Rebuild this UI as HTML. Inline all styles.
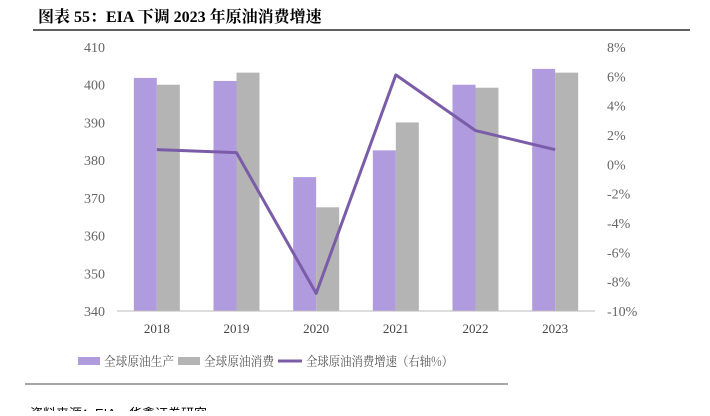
<!DOCTYPE html>
<html><head><meta charset="utf-8"><style>
body{margin:0;width:710px;height:411px;background:#fff;overflow:hidden;font-family:"Liberation Serif","Noto Serif CJK SC",serif}
</style></head><body>
<svg width="710" height="411" id="svg">
<text x="38" y="22" font-size="16" font-weight="bold" fill="#000" font-family="Liberation Serif, Noto Serif CJK SC, serif">图表 55：EIA 下调 2023 年原油消费增速</text>
<line x1="33" y1="30" x2="690" y2="30" stroke="#000" stroke-width="1.2"/>
<g id="plot"></g>
<g font-family="Noto Serif CJK SC, serif" font-size="13" fill="#555">
<rect x="78" y="357" width="22" height="8" fill="#b19bdf"/>
<text x="104" y="366" textLength="70" lengthAdjust="spacingAndGlyphs">全球原油生产</text>
<rect x="178" y="357" width="22" height="8" fill="#b4b4b4"/>
<text x="204" y="366" textLength="70" lengthAdjust="spacingAndGlyphs">全球原油消费</text>
<line x1="278" y1="361" x2="302" y2="361" stroke="#7b5ca8" stroke-width="3"/>
<text x="306" y="366" textLength="147" lengthAdjust="spacingAndGlyphs">全球原油消费增速（右轴%）</text>
</g>
<line x1="25" y1="384" x2="508" y2="384" stroke="#888" stroke-width="1.5"/>
<text x="30" y="418" font-size="13" fill="#000" font-family="Liberation Sans, Noto Sans CJK SC, sans-serif">资料来源：EIA，华鑫证券研究</text>
</svg>
<script>
const categories=["2018","2019","2020","2021","2022","2023"];
const production=[401.8,401.0,375.5,382.6,400.0,404.2];
const consumption=[400.0,403.2,367.5,390.0,399.2,403.2];
const growth=[1.0,0.8,-8.8,6.1,2.3,1.0];
const leftTicks=[340,350,360,370,380,390,400,410];
const rightTicks=[-10,-8,-6,-4,-2,0,2,4,6,8];
const X0=117,X1=595,Y0=311,Y1=47;
const bw=(X1-X0)/categories.length;
const yL=v=>Y0-(v-340)/(410-340)*(Y0-Y1);
const yR=v=>Y0-(v+10)/18*(Y0-Y1);
const xC=i=>X0+(i+0.5)*bw;
const NS="http://www.w3.org/2000/svg";
const g=document.getElementById('plot');
function mk(t,a){const e=document.createElementNS(NS,t);for(const k in a)e.setAttribute(k,a[k]);g.appendChild(e);return e;}
leftTicks.forEach(v=>{const t=mk('text',{x:X0-12,y:yL(v)+5,'text-anchor':'end','font-size':14,fill:'#666','font-family':'Liberation Serif, serif'});t.textContent=v;

});
rightTicks.forEach(v=>{const t=mk('text',{x:X1+12,y:yR(v)+5,'font-size':14,fill:'#666','font-family':'Liberation Serif, serif'});t.textContent=v+'%';

});
categories.forEach((c,i)=>{
const p=mk('rect',{x:xC(i)-23,y:yL(production[i]),width:23,height:Y0-yL(production[i]),fill:'#b19bdf'});


const q=mk('rect',{x:xC(i),y:yL(consumption[i]),width:23,height:Y0-yL(consumption[i]),fill:'#b4b4b4'});


const t=mk('text',{x:xC(i),y:Y0+22,'text-anchor':'middle','font-size':13,fill:'#444'});t.textContent=c;


});
const ax=mk('line',{x1:X0,y1:Y0,x2:X1,y2:Y0,stroke:'#bbb'});


const ln=mk('polyline',{points:growth.map((v,i)=>xC(i)+','+yR(v)).join(' '),fill:'none',stroke:'#7b5ca8','stroke-width':3,'stroke-linejoin':'round'});


</script>
</body></html>
